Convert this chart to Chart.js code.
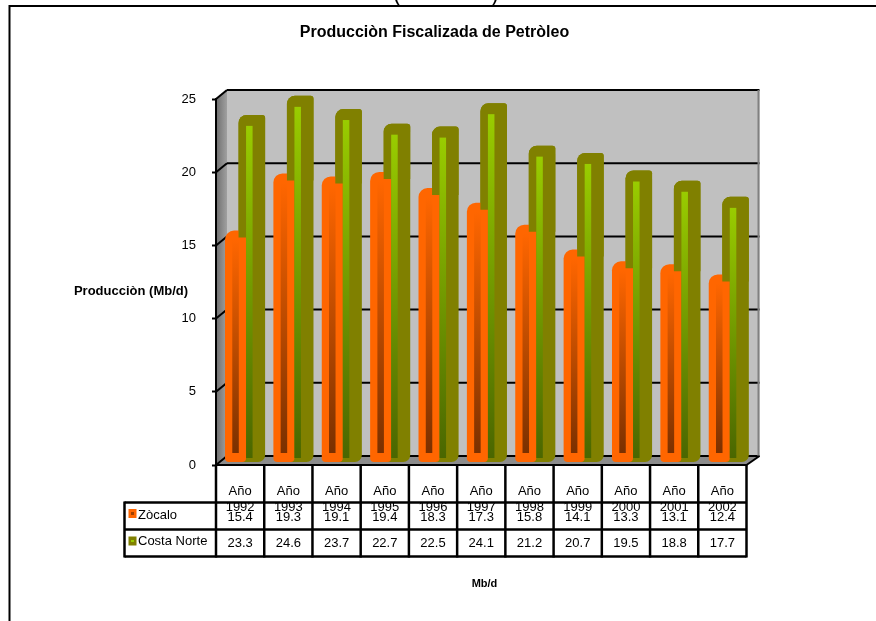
<!DOCTYPE html>
<html>
<head>
<meta charset="utf-8">
<title>Producción Fiscalizada de Petróleo</title>
<script src="https://cdn.jsdelivr.net/npm/chart.js@4"></script>
<style>
  html, body { margin: 0; padding: 0; background: #fff; overflow: hidden; }
  #grafico { display: block; }
</style>
</head>
<body>
<canvas id="grafico" width="876" height="621"></canvas>
<script>
const categorias = ["Año 1992", "Año 1993", "Año 1994", "Año 1995", "Año 1996", "Año 1997", "Año 1998", "Año 1999", "Año 2000", "Año 2001", "Año 2002"];
const zocalo = [15.4, 19.3, 19.1, 19.4, 18.3, 17.3, 15.8, 14.1, 13.3, 13.1, 12.4];
const costaNorte = [23.3, 24.6, 23.7, 22.7, 22.5, 24.1, 21.2, 20.7, 19.5, 18.8, 17.7];

const FUENTE = "'Liberation Sans', Arial, sans-serif";
const NEGRO = "#000";
const NARANJA = "#ff6600";
const OLIVA = "#808000";

// Profundidad de la caja 3D
const FONDO_X = 11;
const FONDO_Y = 9;
// Las barras se apoyan un poco delante de la pared de fondo
const BARRA_DX = 3.5;
const BARRA_ESCALA = 1.003;
const BASE_BARRA = -0.41;

function texto(ctx, str, x, y, font, align) {
  ctx.font = font;
  ctx.fillStyle = NEGRO;
  ctx.textAlign = align || "center";
  ctx.textBaseline = "middle";
  ctx.fillText(str, x, y);
}

function linea(ctx, x1, y1, x2, y2, ancho, color) {
  ctx.beginPath();
  ctx.lineWidth = ancho;
  ctx.strokeStyle = color || NEGRO;
  ctx.moveTo(x1, y1);
  ctx.lineTo(x2, y2);
  ctx.stroke();
}

// Marco de la hoja, títulos y caja 3D: todo por debajo de las barras
const cajaPlugin = {
  id: "caja",
  beforeDraw(chart) {
    const { ctx, chartArea, scales } = chart;
    const { left, right, top, bottom } = chartArea;
    const finFondo = right + FONDO_X + 2;
    ctx.save();

    // restos del encabezado de la página, cortado por arriba
    ctx.font = "22px " + FUENTE;
    ctx.fillStyle = NEGRO;
    ctx.textAlign = "center";
    ctx.textBaseline = "alphabetic";
    ctx.fillText("(", 397, 1);
    ctx.fillText(")", 495, 1);

    linea(ctx, 9.5, 6, 876, 6, 2);
    linea(ctx, 9.5, 5, 9.5, 621, 2);

    // pared lateral
    const lateral = ctx.createLinearGradient(left, 0, left + FONDO_X, 0);
    lateral.addColorStop(0, "#6e6e6e");
    lateral.addColorStop(1, "#a0a0a0");
    ctx.fillStyle = lateral;
    ctx.beginPath();
    ctx.moveTo(left, top);
    ctx.lineTo(left + FONDO_X, top - FONDO_Y);
    ctx.lineTo(left + FONDO_X, bottom - FONDO_Y);
    ctx.lineTo(left, bottom);
    ctx.closePath();
    ctx.fill();

    // pared de fondo
    ctx.fillStyle = "#c0c0c0";
    ctx.fillRect(left + FONDO_X, top - FONDO_Y, finFondo - left - FONDO_X, bottom - top);

    // suelo
    ctx.fillStyle = "#8c8c8c";
    ctx.beginPath();
    ctx.moveTo(left, bottom);
    ctx.lineTo(left + FONDO_X, bottom - FONDO_Y);
    ctx.lineTo(finFondo, bottom - FONDO_Y);
    ctx.lineTo(right, bottom);
    ctx.closePath();
    ctx.fill();

    // líneas de división sobre la pared y el lateral
    scales.y.ticks.forEach((t) => {
      const y = scales.y.getPixelForValue(t.value);
      linea(ctx, left, y, left + FONDO_X, y - FONDO_Y, 2);
      linea(ctx, left + FONDO_X, y - FONDO_Y, finFondo, y - FONDO_Y, 2);
    });
    linea(ctx, finFondo - 1, top - FONDO_Y, finFondo - 1, bottom - FONDO_Y, 2, "#808080");

    ctx.restore();
  },
  afterDraw(chart) {
    const { ctx } = chart;
    ctx.save();
    texto(ctx, "Producciòn Fiscalizada de Petròleo", 434.5, 32.5, "bold 16px " + FUENTE);
    texto(ctx, "Producciòn (Mb/d)", 131, 291, "bold 13px " + FUENTE);
    texto(ctx, "Mb/d", 484.5, 584, "bold 11px " + FUENTE);
    ctx.restore();
  },
};

// Tabla de datos bajo el eje
const tablaPlugin = {
  id: "tabla",
  afterDraw(chart) {
    const { ctx, chartArea, scales } = chart;
    const { left, right, bottom } = chartArea;
    const anchoCelda = (right - left) / categorias.length;
    const fila1 = 502.5;
    const fila2 = 529.5;
    const fila3 = 556.5;
    const izquierda = 124.5;

    ctx.save();
    linea(ctx, right, bottom, right + FONDO_X + 2, bottom - FONDO_Y, 2);
    linea(ctx, izquierda, fila1, right, fila1, 2.5);
    linea(ctx, izquierda, fila2, right, fila2, 2.5);
    linea(ctx, izquierda, fila3, right, fila3, 2.5);
    linea(ctx, izquierda, fila1 - 1, izquierda, fila3 + 1, 2.5);
    for (let i = 0; i <= categorias.length; i++) {
      const x = left + i * anchoCelda;
      linea(ctx, x, bottom, x, fila3 + 1, 2.5);
    }

    // valores
    categorias.forEach((c, i) => {
      const x = scales.x.getPixelForValue(i);
      texto(ctx, zocalo[i].toFixed(1), x, 517, "13px " + FUENTE);
      texto(ctx, costaNorte[i].toFixed(1), x, 543.5, "13px " + FUENTE);
    });

    // claves de la leyenda
    ctx.fillStyle = NARANJA;
    ctx.fillRect(128.5, 509, 8, 9);
    ctx.fillStyle = "#a04000";
    ctx.fillRect(131, 512, 3, 3);
    ctx.fillStyle = OLIVA;
    ctx.fillRect(128.5, 536.5, 8, 9);
    ctx.fillStyle = "#99cc00";
    ctx.fillRect(131, 540, 3, 2);
    texto(ctx, "Zòcalo", 138, 515, "13px " + FUENTE, "left");
    texto(ctx, "Costa Norte", 138, 541.5, "13px " + FUENTE, "left");
    ctx.restore();
  },
};

function franja(ctx, x, ancho, arriba, abajo, colorAlto, colorBajo) {
  const grad = ctx.createLinearGradient(0, arriba, 0, abajo);
  grad.addColorStop(0, colorAlto);
  grad.addColorStop(1, colorBajo);
  ctx.fillStyle = grad;
  ctx.fillRect(x, arriba, ancho, abajo - arriba);
}

// Las barras van desplazadas hacia el fondo de la caja y algo más abiertas
const barrasPlugin = {
  id: "barras3d",
  beforeDatasetsDraw(chart) {
    const { ctx, chartArea } = chart;
    ctx.save();
    ctx.translate(chartArea.left + BARRA_DX, -FONDO_Y);
    ctx.scale(BARRA_ESCALA, 1);
    ctx.translate(-chartArea.left, 0);
  },
  afterDatasetsDraw(chart) {
    const { ctx } = chart;
    const naranjas = chart.getDatasetMeta(0).data;
    const olivas = chart.getDatasetMeta(1).data;

    olivas.forEach((barra, i) => {
      const naranja = naranjas[i];

      // el remate de la barra oliva queda por delante de la naranja
      ctx.save();
      ctx.beginPath();
      ctx.rect(barra.x - barra.width, 0, barra.width * 2, naranja.y + 7);
      ctx.clip();
      barra.draw(ctx);
      ctx.restore();

      franja(ctx, naranja.x - 3.25, 6.5, naranja.y + 9, naranja.base - 9, NARANJA, "#7a3000");
      franja(ctx, barra.x - 5.75, 6.5, barra.y + 11, barra.base - 4, "#99cc00", "#4a6600");
    });
    ctx.restore();
  },
};

new Chart(document.getElementById("grafico"), {
  type: "bar",
  data: {
    labels: categorias,
    datasets: [
      {
        label: "Zòcalo",
        data: zocalo,
        backgroundColor: NARANJA,
        barPercentage: 1.292,
        categoryPercentage: 0.6736,
        base: BASE_BARRA,
        clip: false,
        borderSkipped: false,
        borderRadius: { topLeft: 9, topRight: 5, bottomLeft: 4, bottomRight: 4 },
      },
      {
        label: "Costa Norte",
        data: costaNorte,
        backgroundColor: OLIVA,
        barPercentage: 1.63,
        categoryPercentage: 0.6736,
        base: BASE_BARRA,
        clip: false,
        borderSkipped: false,
        borderRadius: { topLeft: 8, topRight: 3, bottomLeft: 4, bottomRight: 7 },
      },
    ],
  },
  options: {
    responsive: false,
    animation: false,
    layout: { padding: { left: 0, right: 129.5, top: 99, bottom: 0 } },
    plugins: {
      legend: { display: false },
      title: { display: false },
      tooltip: { enabled: false },
    },
    scales: {
      x: {
        afterFit: (s) => { s.height = 156; },
        grid: { display: false, drawTicks: false },
        border: { color: NEGRO, width: 2 },
        ticks: {
          autoSkip: false,
          maxRotation: 0,
          padding: 19,
          color: NEGRO,
          font: { family: FUENTE, size: 13, lineHeight: 1.2 },
          callback: (v, i) => categorias[i].split(" "),
        },
      },
      y: {
        min: 0,
        max: 25,
        afterFit: (s) => { s.width = 216; },
        grid: { drawOnChartArea: false, tickLength: 4, tickWidth: 2, tickColor: NEGRO },
        border: { color: NEGRO, width: 2 },
        ticks: {
          stepSize: 5,
          padding: 16,
          color: NEGRO,
          font: { family: FUENTE, size: 13 },
        },
      },
    },
  },
  plugins: [cajaPlugin, tablaPlugin, barrasPlugin],
});
</script>
</body>
</html>
